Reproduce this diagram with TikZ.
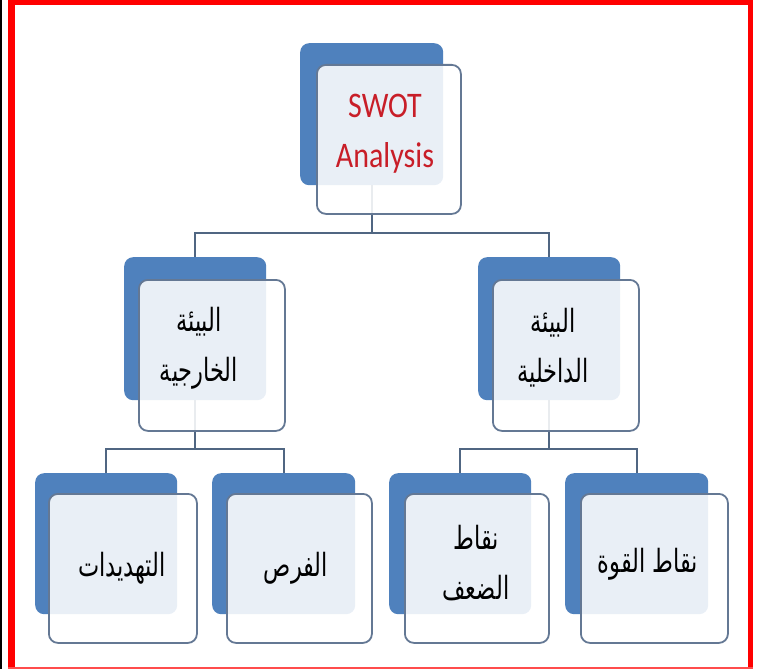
\documentclass[tikz,border=0pt]{standalone}
\usepackage{fontspec}
\newfontfamily\latinfont{Carlito}
\newfontfamily\arabicfont[Script=Arabic]{DejaVu Sans}
\TeXXeTstate=1
\definecolor{backblue}{RGB}{79,129,189}
\definecolor{frontline}{RGB}{100,120,148}
\definecolor{connline}{RGB}{80,102,130}
\definecolor{swotred}{RGB}{200,30,40}
\newcommand{\ar}[1]{\scalebox{1}[1.42]{\arabicfont\beginR #1\endR}}
\tikzset{
  backbox/.style={draw=none, fill=backblue, rounded corners=9pt, inner sep=0pt, anchor=north west},
  frontbox/.style={draw=frontline, line width=1.8pt, fill=white, fill opacity=0.88, rounded corners=9pt, inner sep=0pt, anchor=north west},
  conn/.style={draw=connline, line width=1.8pt},
  artext/.style={align=center, inner sep=0pt, font=\fontsize{22.5}{50}\selectfont, text=black}
}
\begin{document}
\begin{tikzpicture}[x=1pt,y=-1pt]
\useasboundingbox (0,0) rectangle (761,669);
\fill[white] (0,0) rectangle (761,669);
% frame
\coordinate (f1) at (0.8,0);
\coordinate (f2) at (0.8,669);
\draw[black, line width=1.6pt] (f1) -- (f2);
\coordinate (r1) at (11.5,0);
\coordinate (r2) at (11.5,669);
\coordinate (r3) at (750.5,0);
\coordinate (r4) at (750.5,669);
\coordinate (r5) at (8,2.5);
\coordinate (r6) at (753,2.5);
\coordinate (r7) at (8,668);
\coordinate (r8) at (753,668);
\draw[red, line width=7pt] (r1) -- (r2);
\draw[red, line width=5.5pt] (r3) -- (r4);
\draw[red, line width=5pt] (r5) -- (r6);
\draw[red!70, line width=1.5pt] (r7) -- (r8);

% back boxes
\node[backbox, minimum width=143pt, minimum height=142pt] (topB) at (300,43) {};
\node[backbox, minimum width=142pt, minimum height=143pt] (mlB) at (124,257) {};
\node[backbox, minimum width=142pt, minimum height=143pt] (mrB) at (478,257) {};
\node[backbox, minimum width=142pt, minimum height=141pt] (b1B) at (35,473) {};
\node[backbox, minimum width=143pt, minimum height=141pt] (b2B) at (212,473) {};
\node[backbox, minimum width=142pt, minimum height=141pt] (b3B) at (389,473) {};
\node[backbox, minimum width=143pt, minimum height=141pt] (b4B) at (565,473) {};

% connectors
\coordinate (bus1) at (0,233);
\coordinate (bus2) at (0,449);
\draw[conn] (topB.south) -- (topB.south |- bus1) -| (mlB.north);
\draw[conn] (topB.south |- bus1) -| (mrB.north);
\draw[conn] (mlB.south) -- (mlB.south |- bus2) -| (b1B.north);
\draw[conn] (mlB.south |- bus2) -| (b2B.north);
\draw[conn] (mrB.south) -- (mrB.south |- bus2) -| (b3B.north);
\draw[conn] (mrB.south |- bus2) -| (b4B.north);

% front boxes
\node[frontbox, minimum width=144pt, minimum height=149pt] (topF) at (316,64) {};
\node[frontbox, minimum width=146pt, minimum height=151pt] (mlF) at (138,279) {};
\node[frontbox, minimum width=146pt, minimum height=151pt] (mrF) at (492,279) {};
\node[frontbox, minimum width=148pt, minimum height=149pt] (b1F) at (48,493) {};
\node[frontbox, minimum width=145pt, minimum height=149pt] (b2F) at (226,493) {};
\node[frontbox, minimum width=144pt, minimum height=149pt] (b3F) at (404,493) {};
\node[frontbox, minimum width=147pt, minimum height=149pt] (b4F) at (580,493) {};

% texts
\node[align=center, inner sep=0pt, text=swotred, font=\latinfont\fontsize{30}{50}\selectfont] (topT) at (385,134)
  {\scalebox{1}[1.2]{SWOT}\\\scalebox{1}[1.2]{Analysis}};
\node[artext] (mlT) at (199,348) {\ar{البيئة}\\\ar{الخارجية}};
\node[artext] (mrT) at (553,348) {\ar{البيئة}\\\ar{الداخلية}};
\node[artext] (b1T) at (122,568) {\ar{التهديدات}};
\node[artext] (b2T) at (296,568) {\ar{الفرص}};
\node[artext] (b3T) at (476,563) {\ar{نقاط}\\\ar{الضعف}};
\node[artext] (b4T) at (648,564) {\ar{نقاط القوة}};
\end{tikzpicture}
\end{document}
